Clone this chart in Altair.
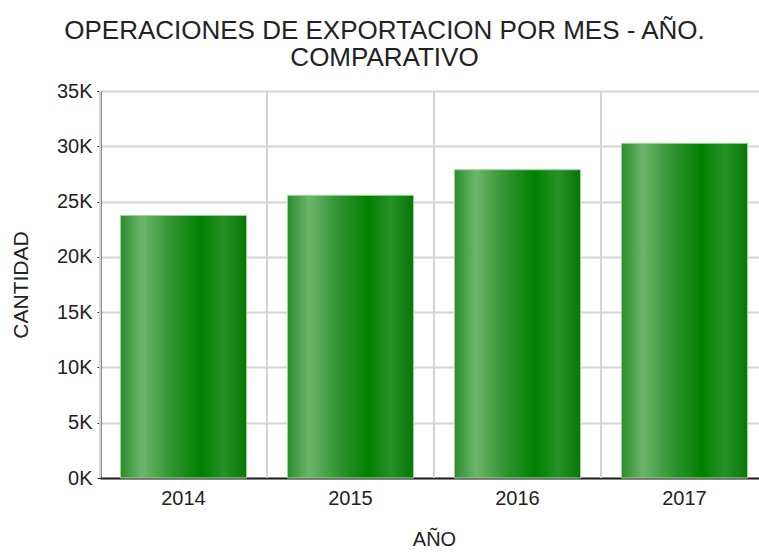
import altair as alt
import pandas as pd

years = ["2014", "2015", "2016", "2017"]
counts = [23750, 25570, 27880, 30270]
y_ticks = [0, 5000, 10000, 15000, 20000, 25000, 30000, 35000]
title_lines = ["OPERACIONES DE EXPORTACION POR MES - AÑO.", "COMPARATIVO"]

df = pd.DataFrame({"year": years, "count": counts})

grad = alt.Gradient(
    gradient="linear", x1=0, x2=1, y1=0, y2=0,
    stops=[
        alt.GradientStop(color="#2b8c2b", offset=0),
        alt.GradientStop(color="#6cb56c", offset=0.17),
        alt.GradientStop(color="#379637", offset=0.38),
        alt.GradientStop(color="#008000", offset=0.64),
        alt.GradientStop(color="#279027", offset=0.82),
        alt.GradientStop(color="#077707", offset=1),
    ],
)

font = "Liberation Sans"
xscale = alt.Scale(paddingInner=0, paddingOuter=0, range=[0, 668])

base = alt.Chart(df)

vgrid = base.mark_rule(color="#d4d4d4", strokeWidth=2).encode(
    x=alt.X("year:N", bandPosition=0, scale=xscale, title="AÑO", sort=years)
)

bars = base.mark_bar(
    width={"band": 0.755}, color=grad, stroke="#a3d3a3", strokeWidth=1
).encode(
    x=alt.X(
        "year:N", scale=xscale, sort=years, title="AÑO",
        axis=alt.Axis(
            grid=False, ticks=False, labelAngle=0, labelAlign="center",
            labelBaseline="top", labelFontSize=20,
            labelPadding=10, labelColor="#222", labelFont=font,
            titleFont=font, titleFontSize=20, titleFontWeight="normal",
            titleColor="#222", titlePadding=21,
            domainColor="#222", domainWidth=2,
        ),
    ),
    y=alt.Y(
        "count:Q", title="CANTIDAD",
        scale=alt.Scale(domain=[0, 35000], nice=False),
        axis=alt.Axis(
            values=y_ticks, labelExpr="datum.value / 1000 + 'K'",
            grid=True, gridColor="#d4d4d4", gridWidth=2,
            tickSize=3, tickColor="#222", labelPadding=5,
            labelFontSize=20, labelFont=font, labelColor="#222",
            titleFont=font, titleFontSize=21, titleFontWeight="normal",
            titleColor="#222", titlePadding=25,
            domainColor="#222", domainWidth=2,
        ),
    ),
)

chart = (
    alt.layer(vgrid, bars)
    .properties(
        width=659, height=387,
        autosize=alt.AutoSizeParams(type="none"),
        padding={"left": 100, "top": 91, "right": 0, "bottom": 75},
        title=alt.Title(
            title_lines, font=font, fontSize=26, fontWeight="normal",
            color="#222", anchor="middle", dx=-45, offset=10, lineHeight=27,
        ),
    )
    .configure_view(stroke=None)
    .configure(background="white")
)

chart.save("out.html", embed_options={"renderer": "svg", "actions": False})
